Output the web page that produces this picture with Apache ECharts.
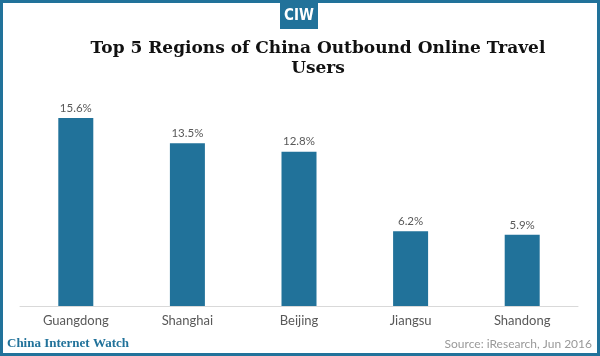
<!DOCTYPE html>
<html><head><meta charset="utf-8">
<script src="https://cdn.jsdelivr.net/npm/echarts@6/dist/echarts.min.js"></script>
<style>html,body{margin:0;padding:0;background:#fff}#c{width:600px;height:356px}</style>
</head><body><div id="c"></div>
<script>
var categories = ['Guangdong', 'Shanghai', 'Beijing', 'Jiangsu', 'Shandong'];
var values = [15.6, 13.5, 12.8, 6.2, 5.9];
var titleText = 'Top 5 Regions of China Outbound Online Travel\nUsers';
var footerLeft = 'China Internet Watch';
var footerRight = 'Source: iResearch, Jun 2016';

var chart = echarts.init(document.getElementById('c'));
chart.setOption({
  animation: false,
  backgroundColor: '#fff',
  grid: { left: 20, right: 22, top: 89, bottom: 50 },
  xAxis: {
    type: 'category', data: categories,
    axisLine: { lineStyle: { color: '#d9d9d9', width: 1 } },
    axisTick: { show: false },
    axisLabel: { color: '#595959', fontFamily: 'Lato', fontSize: 13, margin: 8 }
  },
  yAxis: { type: 'value', min: 0, max: 18, show: false, splitLine: { show: false } },
  series: [{
    type: 'bar', data: values, barWidth: 35,
    itemStyle: { color: '#21729a' },
    label: { show: true, position: 'top', distance: 4, color: '#595959', fontFamily: 'Lato', fontSize: 11.5,
      formatter: function (p) { return p.value.toFixed(1) + '%'; } }
  }],
  graphic: [
    { type: 'rect', shape: { x: 1.5, y: 1.5, width: 597, height: 353 }, style: { fill: 'none', stroke: '#21729a', lineWidth: 3 }, z: 10 },
    { type: 'rect', shape: { x: 280, y: 3, width: 38, height: 26 }, style: { fill: '#21729a' } },
    { type: 'text', x: 299, y: 16, style: { text: 'CIW', fill: '#fff', font: 'bold 15px "Liberation Sans Narrow", "DejaVu Sans Condensed", sans-serif', align: 'center', verticalAlign: 'middle' } },
    { type: 'text', x: 318, y: 39, style: { text: titleText, fill: '#111', font: 'bold 17px "DejaVu Serif", serif', lineHeight: 20, align: 'center', verticalAlign: 'top' } },
    { type: 'text', x: 7, y: 344, style: { text: footerLeft, fill: '#21729a', font: 'bold 13px "Liberation Serif", serif', verticalAlign: 'middle' } },
    { type: 'text', x: 592, y: 344, style: { text: footerRight, fill: '#999', font: '12px Lato, sans-serif', align: 'right', verticalAlign: 'middle' } }
  ]
});
</script></body></html>
